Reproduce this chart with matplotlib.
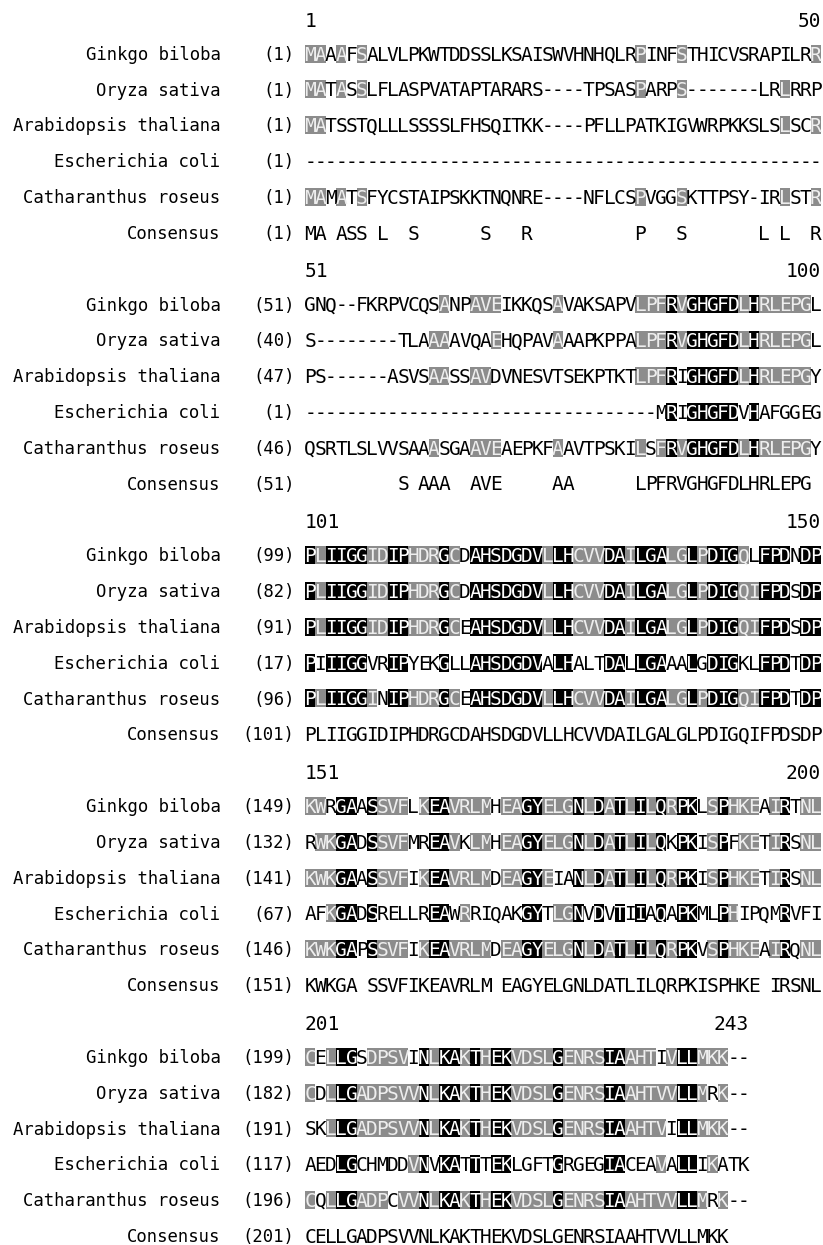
import matplotlib
matplotlib.use("Agg")
import matplotlib.pyplot as plt
from matplotlib.patches import Rectangle

# species / rows of the alignment
species = ["Ginkgo biloba", "Oryza sativa", "Arabidopsis thaliana",
           "Escherichia coli", "Catharanthus roseus", "Consensus"]

block_first = [1, 51, 101, 151, 201]
block_last = [50, 100, 150, 200, 243]

# residue number at the start of each row, per block
row_start = [
    [1, 1, 1, 1, 1, 1],
    [51, 40, 47, 1, 46, 51],
    [99, 82, 91, 17, 96, 101],
    [149, 132, 141, 67, 146, 151],
    [199, 182, 191, 117, 196, 201],
]

# sequences, one string per block
seq_ginkgo = [
    "MAAAFSALVLPKWTDDSSLKSAISWVHNHQLRPINFSTHICVSRAPILRR",
    "GNQ--FKRPVCQSANPAVEIKKQSAVAKSAPVLPFRVGHGFDLHRLEPGL",
    "PLIIGGIDIPHDRGCDAHSDGDVLLHCVVDAILGALGLPDIGQLFPDNDP",
    "KWRGAASSVFLKEAVRLMHEAGYELGNLDATLILQRPKLSPHKEAIRTNL",
    "CELLGSDPSVINLKAKTHEKVDSLGENRSIAAHTIVLLMKK--",
]
seq_oryza = [
    "MATASSLFLASPVATAPTARARS----TPSASPARPS-------LRLRRP",
    "S--------TLAAAAVQAEHQPAVAAAPKPPALPFRVGHGFDLHRLEPGL",
    "PLIIGGIDIPHDRGCDAHSDGDVLLHCVVDAILGALGLPDIGQIFPDSDP",
    "RWKGADSSVFMREAVKLMHEAGYELGNLDATLILQKPKISPFKETIRSNL",
    "CDLLGADPSVVNLKAKTHEKVDSLGENRSIAAHTVVLLMRK--",
]
seq_arab = [
    "MATSSTQLLLSSSSLFHSQITKK----PFLLPATKIGVWRPKKSLSLSCR",
    "PS------ASVSAASSAVDVNESVTSEKPTKTLPFRIGHGFDLHRLEPGY",
    "PLIIGGIDIPHDRGCEAHSDGDVLLHCVVDAILGALGLPDIGQIFPDSDP",
    "KWKGAASSVFIKEAVRLMDEAGYEIANLDATLILQRPKISPHKETIRSNL",
    "SKLLGADPSVVNLKAKTHEKVDSLGENRSIAAHTVILLMKK--",
]
seq_ecoli = [
    "--------------------------------------------------",
    "----------------------------------MRIGHGFDVHAFGGEG",
    "PIIIGGVRIPYEKGLLAHSDGDVALHALTDALLGAAALGDIGKLFPDTDP",
    "AFKGADSRELLREAWRRIQAKGYTLGNVDVTIIAQAPKMLPHIPQMRVFI",
    "AEDLGCHMDDVNVKATTTEKLGFTGRGEGIACEAVALLIKATK",
]
seq_cath = [
    "MAMATSFYCSTAIPSKKTNQNRE----NFLCSPVGGSKTTPSY-IRLSTR",
    "QSRTLSLVVSAAASGAAVEAEPKFAAVTPSKILSFRVGHGFDLHRLEPGY",
    "PLIIGGINIPHDRGCEAHSDGDVLLHCVVDAILGALGLPDIGQIFPDTDP",
    "KWKGAPSSVFIKEAVRLMDEAGYELGNLDATLILQRPKVSPHKEAIRQNL",
    "CQLLGADPCVVNLKAKTHEKVDSLGENRSIAAHTVVLLMRK--",
]
seq_cons = [
    "MA ASS L  S      S   R          P   S       L L  R",
    "         S AAA  AVE     AA      LPFRVGHGFDLHRLEPG ",
    "PLIIGGIDIPHDRGCDAHSDGDVLLHCVVDAILGALGLPDIGQIFPDSDP",
    "KWKGA SSVFIKEAVRLM EAGYELGNLDATLILQRPKISPHKE IRSNL",
    "CELLGADPSVVNLKAKTHEKVDSLGENRSIAAHTVVLLMKK  ",
]

# shading: b = identical (black), g = conserved (grey), . = none
shade_ginkgo = [
    "gg.g.g...." ".........." ".........." "..g...g..." ".........g",
    ".........." "...g..ggg." "....g....." "..gggbgbbb" "bbgbggggg.",
    "bgbbbbggbb" "gggbg.bbbb" "bbbgbbgggb" "bgbbbggbgb" "bbg.bbb.bb",
    "gg.bb.bggg" ".gbbgggg.g" "gbbgggbgbg" "bgbgbgbb.g" "bggg.gb.gg",
    "g.gbb.gggg" ".bgbbgbgbb" "ggggbggggb" "bggg.gbbgg" "g..",
]
shade_oryza = [
    "gg.g.g...." ".........." ".........." "..g...g..." "......g...",
    ".........." "..gg....g." "....g....." "..gggbgbbb" "bbgbggggg.",
    "bgbbbbggbb" "gggbg.bbbb" "bbbgbbgggb" "bgbbbggbgb" "bbggbbb.bb",
    ".ggbb.bggg" "..bbg.gg.g" "gbbgggbgbg" "bgbgb.bb.g" "b.gg.gb.gg",
    "g.gbbggggg" "gbgbbgbgbb" "ggggbggggb" "bgggggbbg." "g..",
]
shade_arab = [
    "gg........" ".........." ".........." ".........." "......g..g",
    ".........." "..gg..gg.." ".........." "..gggb.bbb" "bbgbggggg.",
    "bgbbbbggbb" "gggbg.bbbb" "bbbgbbgggb" "bgbbbggbgb" "bbggbbb.bb",
    "gggbb.bggg" ".gbbgggg.g" "gbbg..bgbg" "bgbgbgbb.g" "bggg.gb.gg",
    "..gbbggggg" "gbgbbgbgbb" "ggggbggggb" "bgggg.bbgg" "g..",
]
shade_ecoli = [
    ".........." ".........." ".........." ".........." "..........",
    ".........." ".........." ".........." ".....b.bbb" "bb.b......",
    "b.bbbb..bb" "...b..bbbb" "bbb.bb...b" "b.bbb..b.b" "bb..bbb.bb",
    "..gbb.b..." "..bb.g...." ".bb.ggb.b." "b.b.b.bb.." "bg....b...",
    "...bb....." "gb.bb.b.bb" "....b....b" "b...g.bb.g" "...",
]
shade_cath = [
    "gg.g.g...." ".........." ".........." "..g...g..." "......g..g",
    ".........." "..g...ggg." "....g....." "..g.gbgbbb" "bbgbggggg.",
    "bgbbbbg.bb" "gggbg.bbbb" "bbbgbbgggb" "bgbbbggbgb" "bbggbbb.bb",
    "gggbb.bggg" ".gbbgggg.g" "gbbgggbgbg" "bgbgbgbb.g" "bggg.gb.gg",
    "g.gbbggg.g" "gbgbbgbgbb" "ggggbggggb" "bgggggbbg." "g..",
]

seqs = [seq_ginkgo, seq_oryza, seq_arab, seq_ecoli, seq_cath, seq_cons]
shades = [shade_ginkgo, shade_oryza, shade_arab, shade_ecoli, shade_cath]

# colours
box_col = {"g": "#8c8c8c", "b": "#000000"}
txt_col = {"g": "#eeeeee", "b": "#ffffff", ".": "#000000"}

FONT = "DejaVu Sans Mono"
fs_seq = 14.0
fs_lab = 12.4

# layout (pixels, one column = one residue cell)
W, H = 823, 1245
cell = 10.32
x_left = 305
top = 19.5
block_step = 250.8
head_gap = 34
row_step = 35.8
box_h = 18

fig = plt.figure(figsize=(W / 100, H / 100), dpi=100)
ax = fig.add_axes([0, 0, 1, 1])
ax.set_xlim(-x_left / cell, (W - x_left) / cell)
ax.set_ylim(H, 0)
ax.axis("off")


def base_off(fs):
    # half cap height in pixels, to sit caps centred on the row
    return 0.729 * fs * 100 / 72 / 2


for b in range(len(block_first)):
    hy = top + block_step * b
    ncol = block_last[b] - block_first[b] + 1
    ax.text(0, hy + base_off(fs_seq), str(block_first[b]), ha="left",
            va="baseline", family=FONT, fontsize=fs_seq)
    ax.text(ncol, hy + base_off(fs_seq), str(block_last[b]), ha="right",
            va="baseline", family=FONT, fontsize=fs_seq)

    for r in range(len(species)):
        y = hy + head_gap + row_step * r
        ax.text(-8.2, y + base_off(fs_lab), species[r], ha="right",
                va="baseline", family=FONT, fontsize=fs_lab)
        ax.text(-1, y + base_off(fs_lab), "(%d)" % row_start[b][r],
                ha="right", va="baseline", family=FONT, fontsize=fs_lab)

        s = seqs[r][b]
        m = shades[r][b] if r < len(shades) else "." * len(s)

        # merge runs of the same shading into one box
        i = 0
        while i < ncol:
            j = i
            while j < ncol and m[j] == m[i]:
                j += 1
            if m[i] in box_col:
                ax.add_patch(Rectangle((i, y - box_h / 2), j - i, box_h,
                                       facecolor=box_col[m[i]],
                                       edgecolor="none", lw=0))
            i = j

        for i, ch in enumerate(s):
            if ch == " ":
                continue
            ax.text(i + 0.5, y + base_off(fs_seq), ch, ha="center",
                    va="baseline", family=FONT, fontsize=fs_seq,
                    color=txt_col[m[i]])

fig.savefig("out.png", dpi=100, facecolor="white")
